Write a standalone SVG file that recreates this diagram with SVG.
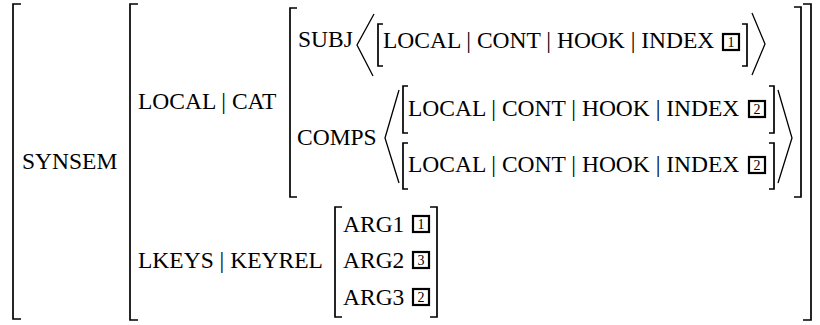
<svg xmlns="http://www.w3.org/2000/svg" width="820" height="325" viewBox="0 0 820 325">
<style>
.t{font-family:"Liberation Serif","Times New Roman",serif;font-size:23.5px;fill:#000}
.br{fill:none;stroke:#000;stroke-width:1.7}
.ang{fill:none;stroke:#000;stroke-width:1.3}
.box{fill:#fff;stroke:#000;stroke-width:2.2}
.n{font-family:"Liberation Serif","Times New Roman",serif;font-size:14px;text-anchor:middle;fill:#000}
</style>
<rect width="820" height="325" fill="#fff"/>
<g id="avm-synsem">
<path class="br" d="M21,4H13V319H21"/>
<text class="t" x="22" y="169">SYNSEM</text>
</g>
<g id="avm-local">
<path class="br" d="M138,4H130V320H138"/>
<path class="br" d="M803,4H811V320H803"/>
<text class="t" x="138" y="109">LOCAL | CAT</text>
<text class="t" x="138" y="268">LKEYS | KEYREL</text>
</g>
<g id="avm-cat">
<path class="br" d="M297,8H290V197H297"/>
<path class="br" d="M794,7H801V197H794"/>
<text class="t" x="298" y="47">SUBJ</text>
<text class="t" x="297" y="145">COMPS</text>
</g>
<g id="subj-list">
<path class="ang" d="M374,14L357,45L373,76"/>
<path class="br" d="M383,24H378V66H383"/>
<text class="t" x="383" y="48">LOCAL | CONT | HOOK | INDEX</text>
<rect class="box" x="723" y="34" width="16" height="16"/>
<text class="n" x="731" y="47">1</text>
<path class="br" d="M742,24H747V66H742"/>
<path class="ang" d="M752,13L765,44L752,75"/>
</g>
<g id="comps-list">
<path class="ang" d="M399,90L385,138L399,183"/>
<path class="br" d="M408,86H403V133H408"/>
<text class="t" x="408" y="116">LOCAL | CONT | HOOK | INDEX</text>
<rect class="box" x="749" y="101" width="16" height="16"/>
<text class="n" x="757" y="114">2</text>
<path class="br" d="M769,86H774V133H769"/>
<path class="br" d="M408,143H403V189H408"/>
<text class="t" x="408" y="172">LOCAL | CONT | HOOK | INDEX</text>
<rect class="box" x="749" y="157" width="16" height="16"/>
<text class="n" x="757" y="170">2</text>
<path class="br" d="M769,143H774V189H769"/>
<path class="ang" d="M778,90L792,138L778,183"/>
</g>
<g id="keyrel">
<path class="br" d="M342,207H335V317H342"/>
<path class="br" d="M430,207H437V317H430"/>
<text class="t" x="343" y="232">ARG1</text>
<rect class="box" x="413" y="216" width="16" height="16"/>
<text class="n" x="421" y="229">1</text>
<text class="t" x="343" y="268">ARG2</text>
<rect class="box" x="413" y="252" width="16" height="16"/>
<text class="n" x="421" y="265">3</text>
<text class="t" x="343" y="305">ARG3</text>
<rect class="box" x="413" y="289" width="16" height="16"/>
<text class="n" x="421" y="302">2</text>
</g>
<g id="connectors"/>
</svg>
